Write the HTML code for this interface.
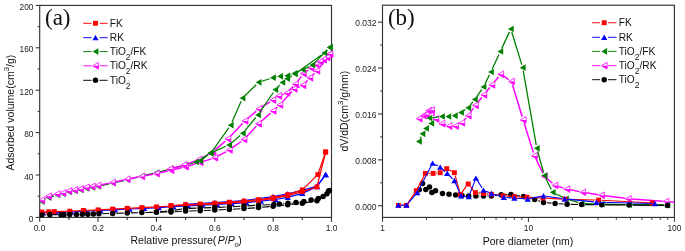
<!DOCTYPE html>
<html><head><meta charset="utf-8"><title>Isotherms</title>
<style>html,body{margin:0;padding:0;background:#fff;width:685px;height:251px;overflow:hidden;font-family:"Liberation Sans",sans-serif}svg{display:block;filter:blur(0.35px)}</style>
</head><body><svg width="685" height="251" viewBox="0 0 685 251"><rect x="39.7" y="5.4" width="291.8" height="212" fill="none" stroke="#333333" stroke-width="1.15"/><line x1="35.7" y1="217.4" x2="39.7" y2="217.4" stroke="#333333" stroke-width="1.1"/><text x="33.4" y="222" text-anchor="end" font-family="Liberation Sans, sans-serif" font-size="8.3" fill="#1a1a1a">0</text><line x1="37.7" y1="196.2" x2="39.7" y2="196.2" stroke="#333333" stroke-width="1.1"/><line x1="35.7" y1="175" x2="39.7" y2="175" stroke="#333333" stroke-width="1.1"/><text x="33.4" y="179.6" text-anchor="end" font-family="Liberation Sans, sans-serif" font-size="8.3" fill="#1a1a1a">40</text><line x1="37.7" y1="153.8" x2="39.7" y2="153.8" stroke="#333333" stroke-width="1.1"/><line x1="35.7" y1="132.6" x2="39.7" y2="132.6" stroke="#333333" stroke-width="1.1"/><text x="33.4" y="137.2" text-anchor="end" font-family="Liberation Sans, sans-serif" font-size="8.3" fill="#1a1a1a">80</text><line x1="37.7" y1="111.4" x2="39.7" y2="111.4" stroke="#333333" stroke-width="1.1"/><line x1="35.7" y1="90.2" x2="39.7" y2="90.2" stroke="#333333" stroke-width="1.1"/><text x="33.4" y="94.8" text-anchor="end" font-family="Liberation Sans, sans-serif" font-size="8.3" fill="#1a1a1a">120</text><line x1="37.7" y1="69" x2="39.7" y2="69" stroke="#333333" stroke-width="1.1"/><line x1="35.7" y1="47.8" x2="39.7" y2="47.8" stroke="#333333" stroke-width="1.1"/><text x="33.4" y="52.4" text-anchor="end" font-family="Liberation Sans, sans-serif" font-size="8.3" fill="#1a1a1a">160</text><line x1="37.7" y1="26.6" x2="39.7" y2="26.6" stroke="#333333" stroke-width="1.1"/><line x1="35.7" y1="5.4" x2="39.7" y2="5.4" stroke="#333333" stroke-width="1.1"/><text x="33.4" y="10" text-anchor="end" font-family="Liberation Sans, sans-serif" font-size="8.3" fill="#1a1a1a">200</text><line x1="39.7" y1="217.4" x2="39.7" y2="221.8" stroke="#333333" stroke-width="1.1"/><text x="39.7" y="231.3" text-anchor="middle" font-family="Liberation Sans, sans-serif" font-size="8.4" fill="#1a1a1a">0.0</text><line x1="68.88" y1="217.4" x2="68.88" y2="219.9" stroke="#333333" stroke-width="1.1"/><line x1="98.06" y1="217.4" x2="98.06" y2="221.8" stroke="#333333" stroke-width="1.1"/><text x="98.06" y="231.3" text-anchor="middle" font-family="Liberation Sans, sans-serif" font-size="8.4" fill="#1a1a1a">0.2</text><line x1="127.24" y1="217.4" x2="127.24" y2="219.9" stroke="#333333" stroke-width="1.1"/><line x1="156.42" y1="217.4" x2="156.42" y2="221.8" stroke="#333333" stroke-width="1.1"/><text x="156.42" y="231.3" text-anchor="middle" font-family="Liberation Sans, sans-serif" font-size="8.4" fill="#1a1a1a">0.4</text><line x1="185.6" y1="217.4" x2="185.6" y2="219.9" stroke="#333333" stroke-width="1.1"/><line x1="214.78" y1="217.4" x2="214.78" y2="221.8" stroke="#333333" stroke-width="1.1"/><text x="214.78" y="231.3" text-anchor="middle" font-family="Liberation Sans, sans-serif" font-size="8.4" fill="#1a1a1a">0.6</text><line x1="243.96" y1="217.4" x2="243.96" y2="219.9" stroke="#333333" stroke-width="1.1"/><line x1="273.14" y1="217.4" x2="273.14" y2="221.8" stroke="#333333" stroke-width="1.1"/><text x="273.14" y="231.3" text-anchor="middle" font-family="Liberation Sans, sans-serif" font-size="8.4" fill="#1a1a1a">0.8</text><line x1="302.32" y1="217.4" x2="302.32" y2="219.9" stroke="#333333" stroke-width="1.1"/><line x1="331.5" y1="217.4" x2="331.5" y2="221.8" stroke="#333333" stroke-width="1.1"/><text x="331.5" y="231.3" text-anchor="middle" font-family="Liberation Sans, sans-serif" font-size="8.4" fill="#1a1a1a">1.0</text><rect x="382.5" y="5.2" width="291.9" height="212.2" fill="none" stroke="#333333" stroke-width="1.15"/><line x1="378.1" y1="205.75" x2="382.5" y2="205.75" stroke="#333333" stroke-width="1.1"/><text x="376.5" y="209.75" text-anchor="end" font-family="Liberation Sans, sans-serif" font-size="8.5" fill="#1a1a1a">0.000</text><line x1="380.3" y1="182.8" x2="382.5" y2="182.8" stroke="#333333" stroke-width="1.1"/><line x1="378.1" y1="159.85" x2="382.5" y2="159.85" stroke="#333333" stroke-width="1.1"/><text x="376.5" y="163.85" text-anchor="end" font-family="Liberation Sans, sans-serif" font-size="8.5" fill="#1a1a1a">0.008</text><line x1="380.3" y1="136.9" x2="382.5" y2="136.9" stroke="#333333" stroke-width="1.1"/><line x1="378.1" y1="113.95" x2="382.5" y2="113.95" stroke="#333333" stroke-width="1.1"/><text x="376.5" y="117.95" text-anchor="end" font-family="Liberation Sans, sans-serif" font-size="8.5" fill="#1a1a1a">0.016</text><line x1="380.3" y1="91" x2="382.5" y2="91" stroke="#333333" stroke-width="1.1"/><line x1="378.1" y1="68.05" x2="382.5" y2="68.05" stroke="#333333" stroke-width="1.1"/><text x="376.5" y="72.05" text-anchor="end" font-family="Liberation Sans, sans-serif" font-size="8.5" fill="#1a1a1a">0.024</text><line x1="380.3" y1="45.1" x2="382.5" y2="45.1" stroke="#333333" stroke-width="1.1"/><line x1="378.1" y1="22.15" x2="382.5" y2="22.15" stroke="#333333" stroke-width="1.1"/><text x="376.5" y="26.15" text-anchor="end" font-family="Liberation Sans, sans-serif" font-size="8.5" fill="#1a1a1a">0.032</text><line x1="382.5" y1="217.4" x2="382.5" y2="221.8" stroke="#333333" stroke-width="1.0"/><line x1="426.44" y1="217.4" x2="426.44" y2="219.8" stroke="#333333" stroke-width="1.0"/><line x1="452.14" y1="217.4" x2="452.14" y2="219.8" stroke="#333333" stroke-width="1.0"/><line x1="470.37" y1="217.4" x2="470.37" y2="219.8" stroke="#333333" stroke-width="1.0"/><line x1="484.51" y1="217.4" x2="484.51" y2="219.8" stroke="#333333" stroke-width="1.0"/><line x1="496.07" y1="217.4" x2="496.07" y2="219.8" stroke="#333333" stroke-width="1.0"/><line x1="505.84" y1="217.4" x2="505.84" y2="219.8" stroke="#333333" stroke-width="1.0"/><line x1="514.31" y1="217.4" x2="514.31" y2="219.8" stroke="#333333" stroke-width="1.0"/><line x1="521.77" y1="217.4" x2="521.77" y2="219.8" stroke="#333333" stroke-width="1.0"/><line x1="528.45" y1="217.4" x2="528.45" y2="221.8" stroke="#333333" stroke-width="1.0"/><line x1="572.39" y1="217.4" x2="572.39" y2="219.8" stroke="#333333" stroke-width="1.0"/><line x1="598.09" y1="217.4" x2="598.09" y2="219.8" stroke="#333333" stroke-width="1.0"/><line x1="616.32" y1="217.4" x2="616.32" y2="219.8" stroke="#333333" stroke-width="1.0"/><line x1="630.46" y1="217.4" x2="630.46" y2="219.8" stroke="#333333" stroke-width="1.0"/><line x1="642.02" y1="217.4" x2="642.02" y2="219.8" stroke="#333333" stroke-width="1.0"/><line x1="651.79" y1="217.4" x2="651.79" y2="219.8" stroke="#333333" stroke-width="1.0"/><line x1="660.26" y1="217.4" x2="660.26" y2="219.8" stroke="#333333" stroke-width="1.0"/><line x1="667.72" y1="217.4" x2="667.72" y2="219.8" stroke="#333333" stroke-width="1.0"/><line x1="674.4" y1="217.4" x2="674.4" y2="221.8" stroke="#333333" stroke-width="1.0"/><text x="382.5" y="231.3" text-anchor="middle" font-family="Liberation Sans, sans-serif" font-size="8.4" fill="#1a1a1a">1</text><text x="528.45" y="231.3" text-anchor="middle" font-family="Liberation Sans, sans-serif" font-size="8.4" fill="#1a1a1a">10</text><text x="674.4" y="231.3" text-anchor="middle" font-family="Liberation Sans, sans-serif" font-size="8.4" fill="#1a1a1a">100</text><defs><clipPath id="cl"><rect x="39.7" y="5.4" width="294.8" height="212"/></clipPath><clipPath id="cr"><rect x="382.5" y="5.2" width="291.9" height="212.2"/></clipPath></defs><g clip-path="url(#cl)"><path d="M325.66 174.6L316.91 186.2L302.32 190.4L287.73 193.8L273.14 196.6L243.96 200.5L214.78 202.6L185.6 204.3" fill="none" stroke="#0000ff" stroke-width="1.25" stroke-linejoin="round"/><path d="M325.66 171.8L328.76 177.26L322.56 177.26Z" fill="#0000ff"/><path d="M316.91 183.4L320.01 188.86L313.81 188.86Z" fill="#0000ff"/><path d="M302.32 187.6L305.42 193.06L299.22 193.06Z" fill="#0000ff"/><path d="M287.73 191L290.83 196.46L284.63 196.46Z" fill="#0000ff"/><path d="M273.14 193.8L276.24 199.26L270.04 199.26Z" fill="#0000ff"/><path d="M243.96 197.7L247.06 203.16L240.86 203.16Z" fill="#0000ff"/><path d="M214.78 199.8L217.88 205.26L211.68 205.26Z" fill="#0000ff"/><path d="M185.6 201.5L188.7 206.96L182.5 206.96Z" fill="#0000ff"/><path d="M42.91 212.7L49.91 212.5L55.75 212.3L71.21 211.9L85.8 211.2L100.39 210.5L114.98 209.8L129.57 209L144.16 208.3L158.75 207.6L173.34 206.7L187.93 205.8L202.52 205.2L217.11 204.5L231.7 203.6L246.29 202.6L260.88 201.2L275.47 199.5L287.73 197.3L302.32 193.4L316.91 186.6L325.66 174.6" fill="none" stroke="#0000ff" stroke-width="1.25" stroke-linejoin="round"/><path d="M42.91 209.9L46.01 215.36L39.81 215.36Z" fill="#0000ff"/><path d="M49.91 209.7L53.01 215.16L46.81 215.16Z" fill="#0000ff"/><path d="M55.75 209.5L58.85 214.96L52.65 214.96Z" fill="#0000ff"/><path d="M71.21 209.1L74.31 214.56L68.11 214.56Z" fill="#0000ff"/><path d="M85.8 208.4L88.9 213.86L82.7 213.86Z" fill="#0000ff"/><path d="M100.39 207.7L103.49 213.16L97.29 213.16Z" fill="#0000ff"/><path d="M114.98 207L118.08 212.46L111.88 212.46Z" fill="#0000ff"/><path d="M129.57 206.2L132.67 211.66L126.47 211.66Z" fill="#0000ff"/><path d="M144.16 205.5L147.26 210.96L141.06 210.96Z" fill="#0000ff"/><path d="M158.75 204.8L161.85 210.26L155.65 210.26Z" fill="#0000ff"/><path d="M173.34 203.9L176.44 209.36L170.24 209.36Z" fill="#0000ff"/><path d="M187.93 203L191.03 208.46L184.83 208.46Z" fill="#0000ff"/><path d="M202.52 202.4L205.62 207.86L199.42 207.86Z" fill="#0000ff"/><path d="M217.11 201.7L220.21 207.16L214.01 207.16Z" fill="#0000ff"/><path d="M231.7 200.8L234.8 206.26L228.6 206.26Z" fill="#0000ff"/><path d="M246.29 199.8L249.39 205.26L243.19 205.26Z" fill="#0000ff"/><path d="M260.88 198.4L263.98 203.86L257.78 203.86Z" fill="#0000ff"/><path d="M275.47 196.7L278.57 202.16L272.37 202.16Z" fill="#0000ff"/><path d="M287.73 194.5L290.83 199.96L284.63 199.96Z" fill="#0000ff"/><path d="M302.32 190.6L305.42 196.06L299.22 196.06Z" fill="#0000ff"/><path d="M316.91 183.8L320.01 189.26L313.81 189.26Z" fill="#0000ff"/><path d="M325.66 171.8L328.76 177.26L322.56 177.26Z" fill="#0000ff"/><path d="M325.66 152L317.79 174.6L302.32 189.9L287.73 194.6L273.14 197.7L258.55 199.7L243.96 201.1L229.37 202.2L214.78 203.2L200.19 204L185.6 204.7L171.01 205.5" fill="none" stroke="#ff0000" stroke-width="1.25" stroke-linejoin="round"/><rect x="323.21" y="149.55" width="4.9" height="4.9" fill="#ff0000"/><rect x="315.34" y="172.15" width="4.9" height="4.9" fill="#ff0000"/><rect x="299.87" y="187.45" width="4.9" height="4.9" fill="#ff0000"/><rect x="285.28" y="192.15" width="4.9" height="4.9" fill="#ff0000"/><rect x="270.69" y="195.25" width="4.9" height="4.9" fill="#ff0000"/><rect x="256.1" y="197.25" width="4.9" height="4.9" fill="#ff0000"/><rect x="241.51" y="198.65" width="4.9" height="4.9" fill="#ff0000"/><rect x="226.92" y="199.75" width="4.9" height="4.9" fill="#ff0000"/><rect x="212.33" y="200.75" width="4.9" height="4.9" fill="#ff0000"/><rect x="197.74" y="201.55" width="4.9" height="4.9" fill="#ff0000"/><rect x="183.15" y="202.25" width="4.9" height="4.9" fill="#ff0000"/><rect x="168.56" y="203.05" width="4.9" height="4.9" fill="#ff0000"/><path d="M41.74 212L48.75 211.8L54.29 211.6L69.76 211.2L83.47 210.5L98.06 209.9L112.65 209.1L127.24 208.3L141.83 207.6L156.42 206.9L171.01 206L185.6 205.1L200.19 204.5L214.78 203.8L229.37 202.9L243.96 201.9L258.55 200.5L273.14 198.6L287.73 195.6L302.32 191.6L316.91 186.9L325.66 152" fill="none" stroke="#ff0000" stroke-width="1.25" stroke-linejoin="round"/><rect x="39.29" y="209.55" width="4.9" height="4.9" fill="#ff0000"/><rect x="46.3" y="209.35" width="4.9" height="4.9" fill="#ff0000"/><rect x="51.84" y="209.15" width="4.9" height="4.9" fill="#ff0000"/><rect x="67.31" y="208.75" width="4.9" height="4.9" fill="#ff0000"/><rect x="81.02" y="208.05" width="4.9" height="4.9" fill="#ff0000"/><rect x="95.61" y="207.45" width="4.9" height="4.9" fill="#ff0000"/><rect x="110.2" y="206.65" width="4.9" height="4.9" fill="#ff0000"/><rect x="124.79" y="205.85" width="4.9" height="4.9" fill="#ff0000"/><rect x="139.38" y="205.15" width="4.9" height="4.9" fill="#ff0000"/><rect x="153.97" y="204.45" width="4.9" height="4.9" fill="#ff0000"/><rect x="168.56" y="203.55" width="4.9" height="4.9" fill="#ff0000"/><rect x="183.15" y="202.65" width="4.9" height="4.9" fill="#ff0000"/><rect x="197.74" y="202.05" width="4.9" height="4.9" fill="#ff0000"/><rect x="212.33" y="201.35" width="4.9" height="4.9" fill="#ff0000"/><rect x="226.92" y="200.45" width="4.9" height="4.9" fill="#ff0000"/><rect x="241.51" y="199.45" width="4.9" height="4.9" fill="#ff0000"/><rect x="256.1" y="198.05" width="4.9" height="4.9" fill="#ff0000"/><rect x="270.69" y="196.15" width="4.9" height="4.9" fill="#ff0000"/><rect x="285.28" y="193.15" width="4.9" height="4.9" fill="#ff0000"/><rect x="299.87" y="189.15" width="4.9" height="4.9" fill="#ff0000"/><rect x="314.46" y="184.45" width="4.9" height="4.9" fill="#ff0000"/><rect x="323.21" y="149.55" width="4.9" height="4.9" fill="#ff0000"/><path d="M300.33 201.9L299.57 202M292.42 202.86L291.58 202.94M284.42 203.64L283.08 203.76M270.3 204.74L262.15 205.06M254.96 205.42L247.55 205.88M240.37 206.3L232.96 206.7M225.77 207.05L218.38 207.35M211.18 207.62L203.79 207.88M196.59 208.12L189.2 208.38M182.04 209.01L174.57 210.09M167.43 210.97L160 211.73" fill="none" stroke="#000000" stroke-width="1.1" stroke-linejoin="round"/><circle cx="329.4" cy="190.5" r="2.75" fill="#000000"/><circle cx="327" cy="193.7" r="2.75" fill="#000000"/><circle cx="323.1" cy="196.6" r="2.75" fill="#000000"/><circle cx="318.3" cy="198.5" r="2.75" fill="#000000"/><circle cx="311.1" cy="200.1" r="2.75" fill="#000000"/><circle cx="303.9" cy="201.4" r="2.75" fill="#000000"/><circle cx="296" cy="202.5" r="2.75" fill="#000000"/><circle cx="288" cy="203.3" r="2.75" fill="#000000"/><circle cx="279.5" cy="204.1" r="2.75" fill="#000000"/><circle cx="273.9" cy="204.6" r="2.75" fill="#000000"/><circle cx="258.55" cy="205.2" r="2.75" fill="#000000"/><circle cx="243.96" cy="206.1" r="2.75" fill="#000000"/><circle cx="229.37" cy="206.9" r="2.75" fill="#000000"/><circle cx="214.78" cy="207.5" r="2.75" fill="#000000"/><circle cx="200.19" cy="208" r="2.75" fill="#000000"/><circle cx="185.6" cy="208.5" r="2.75" fill="#000000"/><circle cx="171.01" cy="210.6" r="2.75" fill="#000000"/><circle cx="156.42" cy="212.1" r="2.75" fill="#000000"/><path d="M45.34 214.86L46.31 214.85M53.51 214.77L57.4 214.73M102.53 213.68L109.05 213.5M116.25 213.3L123.64 213.1M130.84 212.9L138.23 212.7M145.43 212.53L152.82 212.37M160.02 212.2L167.41 212M174.6 211.7L182.01 211.3M189.2 211L196.59 210.8M203.79 210.55L211.18 210.25M218.38 209.93L225.77 209.57M232.96 209.2L240.37 208.8M247.55 208.35L254.96 207.85M262.14 207.28L269.55 206.62M276.72 205.93L284.15 205.17M291.31 204.41L298.74 203.59M305.87 202.62L313.36 201.38M319.67 198.49L325.82 193.31" fill="none" stroke="#000000" stroke-width="1.1" stroke-linejoin="round"/><circle cx="41.74" cy="214.9" r="2.75" fill="#000000"/><circle cx="49.91" cy="214.81" r="2.75" fill="#000000"/><circle cx="61" cy="214.69" r="2.75" fill="#000000"/><circle cx="63.92" cy="214.65" r="2.75" fill="#000000"/><circle cx="69.76" cy="214.58" r="2.75" fill="#000000"/><circle cx="76.47" cy="214.43" r="2.75" fill="#000000"/><circle cx="82.3" cy="214.29" r="2.75" fill="#000000"/><circle cx="87.85" cy="214.15" r="2.75" fill="#000000"/><circle cx="93.39" cy="213.96" r="2.75" fill="#000000"/><circle cx="98.94" cy="213.78" r="2.75" fill="#000000"/><circle cx="112.65" cy="213.4" r="2.75" fill="#000000"/><circle cx="127.24" cy="213" r="2.75" fill="#000000"/><circle cx="141.83" cy="212.6" r="2.75" fill="#000000"/><circle cx="156.42" cy="212.3" r="2.75" fill="#000000"/><circle cx="171.01" cy="211.9" r="2.75" fill="#000000"/><circle cx="185.6" cy="211.1" r="2.75" fill="#000000"/><circle cx="200.19" cy="210.7" r="2.75" fill="#000000"/><circle cx="214.78" cy="210.1" r="2.75" fill="#000000"/><circle cx="229.37" cy="209.4" r="2.75" fill="#000000"/><circle cx="243.96" cy="208.6" r="2.75" fill="#000000"/><circle cx="258.55" cy="207.6" r="2.75" fill="#000000"/><circle cx="273.14" cy="206.3" r="2.75" fill="#000000"/><circle cx="287.73" cy="204.8" r="2.75" fill="#000000"/><circle cx="302.32" cy="203.2" r="2.75" fill="#000000"/><circle cx="316.91" cy="200.8" r="2.75" fill="#000000"/><circle cx="328.58" cy="191" r="2.75" fill="#000000"/><path d="M44.66 199.86L45.53 199.34M51.71 196.63L53.95 195.97M101.38 185.67L109.33 183.93M115.96 182.43L123.93 180.57M130.53 178.94L138.54 176.86M145.14 175.23L153.11 173.37M159.71 171.74L167.72 169.66M174.31 167.99L182.3 166.01M188.87 164.26L196.92 161.94" fill="none" stroke="#008000" stroke-width="1.25" stroke-linejoin="round"/><path d="M38.84 201.6L44.64 198.25L44.64 204.95Z" fill="#008000"/><path d="M45.55 197.6L51.35 194.25L51.35 200.95Z" fill="#008000"/><path d="M54.31 195L60.11 191.65L60.11 198.35Z" fill="#008000"/><path d="M60.14 193.8L65.94 190.45L65.94 197.15Z" fill="#008000"/><path d="M65.98 192L71.78 188.65L71.78 195.35Z" fill="#008000"/><path d="M71.82 191L77.62 187.65L77.62 194.35Z" fill="#008000"/><path d="M77.65 190L83.45 186.65L83.45 193.35Z" fill="#008000"/><path d="M83.49 188.5L89.29 185.15L89.29 191.85Z" fill="#008000"/><path d="M89.32 187.5L95.12 184.15L95.12 190.85Z" fill="#008000"/><path d="M95.16 186.4L100.96 183.05L100.96 189.75Z" fill="#008000"/><path d="M109.75 183.2L115.55 179.85L115.55 186.55Z" fill="#008000"/><path d="M124.34 179.8L130.14 176.45L130.14 183.15Z" fill="#008000"/><path d="M138.93 176L144.73 172.65L144.73 179.35Z" fill="#008000"/><path d="M153.52 172.6L159.32 169.25L159.32 175.95Z" fill="#008000"/><path d="M168.11 168.8L173.91 165.45L173.91 172.15Z" fill="#008000"/><path d="M182.7 165.2L188.5 161.85L188.5 168.55Z" fill="#008000"/><path d="M197.29 161L203.09 157.65L203.09 164.35Z" fill="#008000"/><path d="M44.66 198.46L45.53 197.94M51.75 195.37L53.91 194.83M101.39 184.74L109.32 183.16M115.97 181.75L123.92 179.95M130.58 178.56L138.49 177.04M145.17 175.76L153.08 174.24M159.73 172.83L167.7 170.97M174.32 169.43L182.29 167.57M188.86 165.82L196.93 163.38M203.43 161.38L211.54 158.82M217.77 156.18L226.38 151.52M232.14 147.93L241.19 141.47M246.27 137.01L256.24 126.29M261.1 121.55L270.59 113.15M275.67 108.63L277.32 107.17M282.12 102.36L291.88 91.44M297.29 87.61L299.76 86.59M305.22 82.81L307.59 80.29M312.33 75.41L314.49 73.29M318.97 68.2L327.68 56.8" fill="none" stroke="#ff00ff" stroke-width="1.45" stroke-linejoin="round"/><path d="M38.84 200.2L44.64 196.85L44.64 203.55Z" fill="#fff" stroke="#ff00ff" stroke-width="0.8"/><path d="M38.84 200.2L44.64 200.2L44.64 203.55Z" fill="#ff00ff"/><path d="M45.55 196.2L51.35 192.85L51.35 199.55Z" fill="#fff" stroke="#ff00ff" stroke-width="0.8"/><path d="M45.55 196.2L51.35 196.2L51.35 199.55Z" fill="#ff00ff"/><path d="M54.31 194L60.11 190.65L60.11 197.35Z" fill="#fff" stroke="#ff00ff" stroke-width="0.8"/><path d="M54.31 194L60.11 194L60.11 197.35Z" fill="#ff00ff"/><path d="M60.14 192.9L65.94 189.55L65.94 196.25Z" fill="#fff" stroke="#ff00ff" stroke-width="0.8"/><path d="M60.14 192.9L65.94 192.9L65.94 196.25Z" fill="#ff00ff"/><path d="M65.98 190.9L71.78 187.55L71.78 194.25Z" fill="#fff" stroke="#ff00ff" stroke-width="0.8"/><path d="M65.98 190.9L71.78 190.9L71.78 194.25Z" fill="#ff00ff"/><path d="M71.82 189.9L77.62 186.55L77.62 193.25Z" fill="#fff" stroke="#ff00ff" stroke-width="0.8"/><path d="M71.82 189.9L77.62 189.9L77.62 193.25Z" fill="#ff00ff"/><path d="M77.65 188.9L83.45 185.55L83.45 192.25Z" fill="#fff" stroke="#ff00ff" stroke-width="0.8"/><path d="M77.65 188.9L83.45 188.9L83.45 192.25Z" fill="#ff00ff"/><path d="M83.49 187.4L89.29 184.05L89.29 190.75Z" fill="#fff" stroke="#ff00ff" stroke-width="0.8"/><path d="M83.49 187.4L89.29 187.4L89.29 190.75Z" fill="#ff00ff"/><path d="M89.32 186.4L95.12 183.05L95.12 189.75Z" fill="#fff" stroke="#ff00ff" stroke-width="0.8"/><path d="M89.32 186.4L95.12 186.4L95.12 189.75Z" fill="#ff00ff"/><path d="M95.16 185.4L100.96 182.05L100.96 188.75Z" fill="#fff" stroke="#ff00ff" stroke-width="0.8"/><path d="M95.16 185.4L100.96 185.4L100.96 188.75Z" fill="#ff00ff"/><path d="M109.75 182.5L115.55 179.15L115.55 185.85Z" fill="#fff" stroke="#ff00ff" stroke-width="0.8"/><path d="M109.75 182.5L115.55 182.5L115.55 185.85Z" fill="#ff00ff"/><path d="M124.34 179.2L130.14 175.85L130.14 182.55Z" fill="#fff" stroke="#ff00ff" stroke-width="0.8"/><path d="M124.34 179.2L130.14 179.2L130.14 182.55Z" fill="#ff00ff"/><path d="M138.93 176.4L144.73 173.05L144.73 179.75Z" fill="#fff" stroke="#ff00ff" stroke-width="0.8"/><path d="M138.93 176.4L144.73 176.4L144.73 179.75Z" fill="#ff00ff"/><path d="M153.52 173.6L159.32 170.25L159.32 176.95Z" fill="#fff" stroke="#ff00ff" stroke-width="0.8"/><path d="M153.52 173.6L159.32 173.6L159.32 176.95Z" fill="#ff00ff"/><path d="M168.11 170.2L173.91 166.85L173.91 173.55Z" fill="#fff" stroke="#ff00ff" stroke-width="0.8"/><path d="M168.11 170.2L173.91 170.2L173.91 173.55Z" fill="#ff00ff"/><path d="M182.7 166.8L188.5 163.45L188.5 170.15Z" fill="#fff" stroke="#ff00ff" stroke-width="0.8"/><path d="M182.7 166.8L188.5 166.8L188.5 170.15Z" fill="#ff00ff"/><path d="M197.29 162.4L203.09 159.05L203.09 165.75Z" fill="#fff" stroke="#ff00ff" stroke-width="0.8"/><path d="M197.29 162.4L203.09 162.4L203.09 165.75Z" fill="#ff00ff"/><path d="M211.88 157.8L217.68 154.45L217.68 161.15Z" fill="#fff" stroke="#ff00ff" stroke-width="0.8"/><path d="M211.88 157.8L217.68 157.8L217.68 161.15Z" fill="#ff00ff"/><path d="M226.47 149.9L232.27 146.55L232.27 153.25Z" fill="#fff" stroke="#ff00ff" stroke-width="0.8"/><path d="M226.47 149.9L232.27 149.9L232.27 153.25Z" fill="#ff00ff"/><path d="M241.06 139.5L246.86 136.15L246.86 142.85Z" fill="#fff" stroke="#ff00ff" stroke-width="0.8"/><path d="M241.06 139.5L246.86 139.5L246.86 142.85Z" fill="#ff00ff"/><path d="M255.65 123.8L261.45 120.45L261.45 127.15Z" fill="#fff" stroke="#ff00ff" stroke-width="0.8"/><path d="M255.65 123.8L261.45 123.8L261.45 127.15Z" fill="#ff00ff"/><path d="M270.24 110.9L276.04 107.55L276.04 114.25Z" fill="#fff" stroke="#ff00ff" stroke-width="0.8"/><path d="M270.24 110.9L276.04 110.9L276.04 114.25Z" fill="#ff00ff"/><path d="M276.95 104.9L282.75 101.55L282.75 108.25Z" fill="#fff" stroke="#ff00ff" stroke-width="0.8"/><path d="M276.95 104.9L282.75 104.9L282.75 108.25Z" fill="#ff00ff"/><path d="M291.25 88.9L297.05 85.55L297.05 92.25Z" fill="#fff" stroke="#ff00ff" stroke-width="0.8"/><path d="M291.25 88.9L297.05 88.9L297.05 92.25Z" fill="#ff00ff"/><path d="M300 85.3L305.8 81.95L305.8 88.65Z" fill="#fff" stroke="#ff00ff" stroke-width="0.8"/><path d="M300 85.3L305.8 85.3L305.8 88.65Z" fill="#ff00ff"/><path d="M307.01 77.8L312.81 74.45L312.81 81.15Z" fill="#fff" stroke="#ff00ff" stroke-width="0.8"/><path d="M307.01 77.8L312.81 77.8L312.81 81.15Z" fill="#ff00ff"/><path d="M314.01 70.9L319.81 67.55L319.81 74.25Z" fill="#fff" stroke="#ff00ff" stroke-width="0.8"/><path d="M314.01 70.9L319.81 70.9L319.81 74.25Z" fill="#ff00ff"/><path d="M326.85 54.1L332.65 50.75L332.65 57.45Z" fill="#fff" stroke="#ff00ff" stroke-width="0.8"/><path d="M326.85 54.1L332.65 54.1L332.65 57.45Z" fill="#ff00ff"/><path d="M308.26 70.02L306.14 71.58M301.36 76.32L297.54 81.38M293.12 86.53L289.18 90.57M283.62 94.19L281.98 94.81M275.99 97.91L275.71 98.09M270.03 101.82L261.77 107.08M256.33 111.12L247.57 118.68M242.66 123.36L230.24 136.44M225.33 141.13L215.47 149.67M209.92 153.53L201.98 157.87M195.81 160.67L187.19 163.83M180.73 165.93L173.27 168.07" fill="none" stroke="#ff00ff" stroke-width="1.45" stroke-linejoin="round"/><path d="M327 54.1L332.8 50.75L332.8 57.45Z" fill="#fff" stroke="#ff00ff" stroke-width="0.8"/><path d="M327 54.1L332.8 54.1L332.8 57.45Z" fill="#ff00ff"/><path d="M324.2 57.6L330 54.25L330 60.95Z" fill="#fff" stroke="#ff00ff" stroke-width="0.8"/><path d="M324.2 57.6L330 57.6L330 60.95Z" fill="#ff00ff"/><path d="M320.7 59.6L326.5 56.25L326.5 62.95Z" fill="#fff" stroke="#ff00ff" stroke-width="0.8"/><path d="M320.7 59.6L326.5 59.6L326.5 62.95Z" fill="#ff00ff"/><path d="M317.2 61.7L323 58.35L323 65.05Z" fill="#fff" stroke="#ff00ff" stroke-width="0.8"/><path d="M317.2 61.7L323 61.7L323 65.05Z" fill="#ff00ff"/><path d="M313 64.5L318.8 61.15L318.8 67.85Z" fill="#fff" stroke="#ff00ff" stroke-width="0.8"/><path d="M313 64.5L318.8 64.5L318.8 67.85Z" fill="#ff00ff"/><path d="M308.1 68L313.9 64.65L313.9 71.35Z" fill="#fff" stroke="#ff00ff" stroke-width="0.8"/><path d="M308.1 68L313.9 68L313.9 71.35Z" fill="#ff00ff"/><path d="M300.5 73.6L306.3 70.25L306.3 76.95Z" fill="#fff" stroke="#ff00ff" stroke-width="0.8"/><path d="M300.5 73.6L306.3 73.6L306.3 76.95Z" fill="#ff00ff"/><path d="M292.6 84.1L298.4 80.75L298.4 87.45Z" fill="#fff" stroke="#ff00ff" stroke-width="0.8"/><path d="M292.6 84.1L298.4 84.1L298.4 87.45Z" fill="#ff00ff"/><path d="M283.9 93L289.7 89.65L289.7 96.35Z" fill="#fff" stroke="#ff00ff" stroke-width="0.8"/><path d="M283.9 93L289.7 93L289.7 96.35Z" fill="#ff00ff"/><path d="M275.9 96L281.7 92.65L281.7 99.35Z" fill="#fff" stroke="#ff00ff" stroke-width="0.8"/><path d="M275.9 96L281.7 96L281.7 99.35Z" fill="#ff00ff"/><path d="M270 100L275.8 96.65L275.8 103.35Z" fill="#fff" stroke="#ff00ff" stroke-width="0.8"/><path d="M270 100L275.8 100L275.8 103.35Z" fill="#ff00ff"/><path d="M256 108.9L261.8 105.55L261.8 112.25Z" fill="#fff" stroke="#ff00ff" stroke-width="0.8"/><path d="M256 108.9L261.8 108.9L261.8 112.25Z" fill="#ff00ff"/><path d="M242.1 120.9L247.9 117.55L247.9 124.25Z" fill="#fff" stroke="#ff00ff" stroke-width="0.8"/><path d="M242.1 120.9L247.9 120.9L247.9 124.25Z" fill="#ff00ff"/><path d="M225 138.9L230.8 135.55L230.8 142.25Z" fill="#fff" stroke="#ff00ff" stroke-width="0.8"/><path d="M225 138.9L230.8 138.9L230.8 142.25Z" fill="#ff00ff"/><path d="M210 151.9L215.8 148.55L215.8 155.25Z" fill="#fff" stroke="#ff00ff" stroke-width="0.8"/><path d="M210 151.9L215.8 151.9L215.8 155.25Z" fill="#ff00ff"/><path d="M196.1 159.5L201.9 156.15L201.9 162.85Z" fill="#fff" stroke="#ff00ff" stroke-width="0.8"/><path d="M196.1 159.5L201.9 159.5L201.9 162.85Z" fill="#ff00ff"/><path d="M181.1 165L186.9 161.65L186.9 168.35Z" fill="#fff" stroke="#ff00ff" stroke-width="0.8"/><path d="M181.1 165L186.9 165L186.9 168.35Z" fill="#ff00ff"/><path d="M167.1 169L172.9 165.65L172.9 172.35Z" fill="#fff" stroke="#ff00ff" stroke-width="0.8"/><path d="M167.1 169L172.9 169L172.9 172.35Z" fill="#ff00ff"/><path d="M202.86 158.9L207.44 155.3M213.23 151.84L225.96 146.26M231.67 142.7L240.2 135.5M244.96 130.68L255.8 117.52M259.89 112.1L273.35 92.5M277.65 87.27L279.95 84.93M290.06 76.94L292.03 75.76M297.7 72.02L321.44 54.98M326.6 50.58L327.36 49.82" fill="none" stroke="#008000" stroke-width="1.25" stroke-linejoin="round"/><path d="M197.29 161L203.09 157.65L203.09 164.35Z" fill="#008000"/><path d="M207.21 153.2L213.01 149.85L213.01 156.55Z" fill="#008000"/><path d="M226.18 144.9L231.98 141.55L231.98 148.25Z" fill="#008000"/><path d="M239.89 133.3L245.69 129.95L245.69 136.65Z" fill="#008000"/><path d="M255.07 114.9L260.87 111.55L260.87 118.25Z" fill="#008000"/><path d="M272.37 89.7L278.17 86.35L278.17 93.05Z" fill="#008000"/><path d="M279.43 82.5L285.23 79.15L285.23 85.85Z" fill="#008000"/><path d="M284.25 78.7L290.05 75.35L290.05 82.05Z" fill="#008000"/><path d="M292.04 74L297.84 70.65L297.84 77.35Z" fill="#008000"/><path d="M321.31 53L327.1 49.65L327.1 56.35Z" fill="#008000"/><path d="M326.85 47.4L332.65 44.05L332.65 50.75Z" fill="#008000"/><path d="M327.32 49.82L314.68 62.68M309.25 66.61L305.85 68.29M299.67 71.14L297.53 72.06M291.17 74.48L290.43 74.72M283.81 76.04L283.49 76.06M276.76 76.95L276.24 77.05M269.66 78.74L261.84 81.26M256.17 84.68L244.93 95.72M241.14 101.22L232.06 122.08M228.72 127.97L212.98 150.03M208.1 154.58L198.9 160.22" fill="none" stroke="#008000" stroke-width="1.25" stroke-linejoin="round"/><path d="M326.8 47.4L332.6 44.05L332.6 50.75Z" fill="#008000"/><path d="M309.4 65.1L315.2 61.75L315.2 68.45Z" fill="#008000"/><path d="M299.9 69.8L305.7 66.45L305.7 73.15Z" fill="#008000"/><path d="M291.5 73.4L297.3 70.05L297.3 76.75Z" fill="#008000"/><path d="M284.3 75.8L290.1 72.45L290.1 79.15Z" fill="#008000"/><path d="M277.2 76.3L283 72.95L283 79.65Z" fill="#008000"/><path d="M270 77.7L275.8 74.35L275.8 81.05Z" fill="#008000"/><path d="M255.7 82.3L261.5 78.95L261.5 85.65Z" fill="#008000"/><path d="M239.6 98.1L245.4 94.75L245.4 101.45Z" fill="#008000"/><path d="M227.8 125.2L233.6 121.85L233.6 128.55Z" fill="#008000"/><path d="M208.1 152.8L213.9 149.45L213.9 156.15Z" fill="#008000"/><path d="M193.1 162L198.9 158.65L198.9 165.35Z" fill="#008000"/></g><g clip-path="url(#cr)"><path d="M433.09 113.25L434.41 115.95M438.58 121.1L439.22 121.6M445.13 124.78L445.87 125.02M464.06 120.36L465.94 118.24M470.15 112.91L473.45 108.19M477.54 102.76L481.76 97.54M486.02 92.25L489.78 87.55M494.09 82.3L498.61 76.9M503.62 76.2L508.68 79.6M512.49 84.75L522.21 116.75M524.21 123.25L533.39 152.65M535.9 158.95L542.9 173.25M546.97 178.53L552.43 183.27M558.25 186.48L563.65 188.12M570.23 189.77L579.47 191.63M586.16 192.84L598.14 194.76M604.87 195.74L624.93 198.36M631.69 199.04L662.61 201.26M669.39 201.74L686.61 202.96" fill="none" stroke="#ff00ff" stroke-width="1.5" stroke-linejoin="round"/><path d="M416.3 118.7L422.1 115.35L422.1 122.05Z" fill="#fff" stroke="#ff00ff" stroke-width="0.8"/><path d="M416.3 118.7L422.1 118.7L422.1 122.05Z" fill="#ff00ff"/><path d="M420.6 115.6L426.4 112.25L426.4 118.95Z" fill="#fff" stroke="#ff00ff" stroke-width="0.8"/><path d="M420.6 115.6L426.4 115.6L426.4 118.95Z" fill="#ff00ff"/><path d="M423.6 114.6L429.4 111.25L429.4 117.95Z" fill="#fff" stroke="#ff00ff" stroke-width="0.8"/><path d="M423.6 114.6L429.4 114.6L429.4 117.95Z" fill="#ff00ff"/><path d="M425.7 110.6L431.5 107.25L431.5 113.95Z" fill="#fff" stroke="#ff00ff" stroke-width="0.8"/><path d="M425.7 110.6L431.5 110.6L431.5 113.95Z" fill="#ff00ff"/><path d="M428.7 110.2L434.5 106.85L434.5 113.55Z" fill="#fff" stroke="#ff00ff" stroke-width="0.8"/><path d="M428.7 110.2L434.5 110.2L434.5 113.55Z" fill="#ff00ff"/><path d="M433 119L438.8 115.65L438.8 122.35Z" fill="#fff" stroke="#ff00ff" stroke-width="0.8"/><path d="M433 119L438.8 119L438.8 122.35Z" fill="#ff00ff"/><path d="M439 123.7L444.8 120.35L444.8 127.05Z" fill="#fff" stroke="#ff00ff" stroke-width="0.8"/><path d="M439 123.7L444.8 123.7L444.8 127.05Z" fill="#ff00ff"/><path d="M446.2 126.1L452 122.75L452 129.45Z" fill="#fff" stroke="#ff00ff" stroke-width="0.8"/><path d="M446.2 126.1L452 126.1L452 129.45Z" fill="#ff00ff"/><path d="M452.6 126.1L458.4 122.75L458.4 129.45Z" fill="#fff" stroke="#ff00ff" stroke-width="0.8"/><path d="M452.6 126.1L458.4 126.1L458.4 129.45Z" fill="#ff00ff"/><path d="M458.9 122.9L464.7 119.55L464.7 126.25Z" fill="#fff" stroke="#ff00ff" stroke-width="0.8"/><path d="M458.9 122.9L464.7 122.9L464.7 126.25Z" fill="#ff00ff"/><path d="M465.3 115.7L471.1 112.35L471.1 119.05Z" fill="#fff" stroke="#ff00ff" stroke-width="0.8"/><path d="M465.3 115.7L471.1 115.7L471.1 119.05Z" fill="#ff00ff"/><path d="M472.5 105.4L478.3 102.05L478.3 108.75Z" fill="#fff" stroke="#ff00ff" stroke-width="0.8"/><path d="M472.5 105.4L478.3 105.4L478.3 108.75Z" fill="#ff00ff"/><path d="M481 94.9L486.8 91.55L486.8 98.25Z" fill="#fff" stroke="#ff00ff" stroke-width="0.8"/><path d="M481 94.9L486.8 94.9L486.8 98.25Z" fill="#ff00ff"/><path d="M489 84.9L494.8 81.55L494.8 88.25Z" fill="#fff" stroke="#ff00ff" stroke-width="0.8"/><path d="M489 84.9L494.8 84.9L494.8 88.25Z" fill="#ff00ff"/><path d="M497.9 74.3L503.7 70.95L503.7 77.65Z" fill="#fff" stroke="#ff00ff" stroke-width="0.8"/><path d="M497.9 74.3L503.7 74.3L503.7 77.65Z" fill="#ff00ff"/><path d="M508.6 81.5L514.4 78.15L514.4 84.85Z" fill="#fff" stroke="#ff00ff" stroke-width="0.8"/><path d="M508.6 81.5L514.4 81.5L514.4 84.85Z" fill="#ff00ff"/><path d="M520.3 120L526.1 116.65L526.1 123.35Z" fill="#fff" stroke="#ff00ff" stroke-width="0.8"/><path d="M520.3 120L526.1 120L526.1 123.35Z" fill="#ff00ff"/><path d="M531.5 155.9L537.3 152.55L537.3 159.25Z" fill="#fff" stroke="#ff00ff" stroke-width="0.8"/><path d="M531.5 155.9L537.3 155.9L537.3 159.25Z" fill="#ff00ff"/><path d="M541.5 176.3L547.3 172.95L547.3 179.65Z" fill="#fff" stroke="#ff00ff" stroke-width="0.8"/><path d="M541.5 176.3L547.3 176.3L547.3 179.65Z" fill="#ff00ff"/><path d="M552.1 185.5L557.9 182.15L557.9 188.85Z" fill="#fff" stroke="#ff00ff" stroke-width="0.8"/><path d="M552.1 185.5L557.9 185.5L557.9 188.85Z" fill="#ff00ff"/><path d="M564 189.1L569.8 185.75L569.8 192.45Z" fill="#fff" stroke="#ff00ff" stroke-width="0.8"/><path d="M564 189.1L569.8 189.1L569.8 192.45Z" fill="#ff00ff"/><path d="M579.9 192.3L585.7 188.95L585.7 195.65Z" fill="#fff" stroke="#ff00ff" stroke-width="0.8"/><path d="M579.9 192.3L585.7 192.3L585.7 195.65Z" fill="#ff00ff"/><path d="M598.6 195.3L604.4 191.95L604.4 198.65Z" fill="#fff" stroke="#ff00ff" stroke-width="0.8"/><path d="M598.6 195.3L604.4 195.3L604.4 198.65Z" fill="#ff00ff"/><path d="M625.4 198.8L631.2 195.45L631.2 202.15Z" fill="#fff" stroke="#ff00ff" stroke-width="0.8"/><path d="M625.4 198.8L631.2 198.8L631.2 202.15Z" fill="#ff00ff"/><path d="M663.1 201.5L668.9 198.15L668.9 204.85Z" fill="#fff" stroke="#ff00ff" stroke-width="0.8"/><path d="M663.1 201.5L668.9 201.5L668.9 204.85Z" fill="#ff00ff"/><path d="M687.1 203.2L692.9 199.85L692.9 206.55Z" fill="#fff" stroke="#ff00ff" stroke-width="0.8"/><path d="M687.1 203.2L692.9 203.2L692.9 206.55Z" fill="#ff00ff"/><path d="M420.27 138.51L421.13 136.69M428.31 126.28L428.99 125.62M432.67 117.69L438.73 116.91M457.55 114.25L458.15 113.95M463.68 110.75L465.52 109.55M470.18 105.28L472.82 101.92M476.63 96.77L481.67 89.53M484.92 84.03L489.48 74.87M492.23 69.09L498.97 54.41M501.65 48.6L509.45 31.9M511.74 32.06L521.76 64.64M523.25 70.85L536.25 145.15M537.66 151.38L543.54 172.52M545.82 178.47L551.28 189.43M555.57 193.71L563.03 197.39M568.96 199.74L578.54 202.66M584.8 203.7L598.5 204.1M604.9 204.25L625.8 204.55M632.2 204.63L664.2 204.97" fill="none" stroke="#008000" stroke-width="1.3" stroke-linejoin="round"/><path d="M416 141.4L421.8 138.05L421.8 144.75Z" fill="#008000"/><path d="M419.6 133.8L425.4 130.45L425.4 137.15Z" fill="#008000"/><path d="M423.1 128.5L428.9 125.15L428.9 131.85Z" fill="#008000"/><path d="M428.4 123.4L434.2 120.05L434.2 126.75Z" fill="#008000"/><path d="M426.6 118.1L432.4 114.75L432.4 121.45Z" fill="#008000"/><path d="M439 116.5L444.8 113.15L444.8 119.85Z" fill="#008000"/><path d="M445.4 116.5L451.2 113.15L451.2 119.85Z" fill="#008000"/><path d="M451.8 115.7L457.6 112.35L457.6 119.05Z" fill="#008000"/><path d="M458.1 112.5L463.9 109.15L463.9 115.85Z" fill="#008000"/><path d="M465.3 107.8L471.1 104.45L471.1 111.15Z" fill="#008000"/><path d="M471.9 99.4L477.7 96.05L477.7 102.75Z" fill="#008000"/><path d="M480.6 86.9L486.4 83.55L486.4 90.25Z" fill="#008000"/><path d="M488 72L493.8 68.65L493.8 75.35Z" fill="#008000"/><path d="M497.4 51.5L503.2 48.15L503.2 54.85Z" fill="#008000"/><path d="M507.9 29L513.7 25.65L513.7 32.35Z" fill="#008000"/><path d="M519.8 67.7L525.6 64.35L525.6 71.05Z" fill="#008000"/><path d="M533.9 148.3L539.7 144.95L539.7 151.65Z" fill="#008000"/><path d="M541.5 175.6L547.3 172.25L547.3 178.95Z" fill="#008000"/><path d="M549.8 192.3L555.6 188.95L555.6 195.65Z" fill="#008000"/><path d="M563 198.8L568.8 195.45L568.8 202.15Z" fill="#008000"/><path d="M578.7 203.6L584.5 200.25L584.5 206.95Z" fill="#008000"/><path d="M598.8 204.2L604.6 200.85L604.6 207.55Z" fill="#008000"/><path d="M626.1 204.6L631.9 201.25L631.9 207.95Z" fill="#008000"/><path d="M664.5 205L670.3 201.65L670.3 208.35Z" fill="#008000"/><path d="M438.84 192.04L439.16 192.16M479.5 196L479.9 196M487.1 195.95L487.8 195.95M494.98 195.5L497.62 195.2M504.8 194.69L507.3 194.61M514.45 195.09L519.95 196.01M526.98 197.53L531.22 198.67M538.13 200.69L540.07 201.31M547.08 202.74L551.52 203.16M558.69 203.74L563.51 204.06M570.7 204.37L578 204.53M585.2 204.64L598.1 204.76M605.3 204.84L625.4 205.06M632.6 205.13L663.8 205.37" fill="none" stroke="#000000" stroke-width="1.1" stroke-linejoin="round"/><circle cx="419.3" cy="189.8" r="2.75" fill="#000000"/><circle cx="422.5" cy="183.5" r="2.75" fill="#000000"/><circle cx="425.8" cy="189.5" r="2.75" fill="#000000"/><circle cx="429.5" cy="187.1" r="2.75" fill="#000000"/><circle cx="431.9" cy="192.6" r="2.75" fill="#000000"/><circle cx="435.5" cy="190.7" r="2.75" fill="#000000"/><circle cx="442.5" cy="193.5" r="2.75" fill="#000000"/><circle cx="449" cy="194.3" r="2.75" fill="#000000"/><circle cx="455.6" cy="195" r="2.75" fill="#000000"/><circle cx="462" cy="195.5" r="2.75" fill="#000000"/><circle cx="468.7" cy="196" r="2.75" fill="#000000"/><circle cx="475.9" cy="196" r="2.75" fill="#000000"/><circle cx="483.5" cy="196" r="2.75" fill="#000000"/><circle cx="491.4" cy="195.9" r="2.75" fill="#000000"/><circle cx="501.2" cy="194.8" r="2.75" fill="#000000"/><circle cx="510.9" cy="194.5" r="2.75" fill="#000000"/><circle cx="523.5" cy="196.6" r="2.75" fill="#000000"/><circle cx="534.7" cy="199.6" r="2.75" fill="#000000"/><circle cx="543.5" cy="202.4" r="2.75" fill="#000000"/><circle cx="555.1" cy="203.5" r="2.75" fill="#000000"/><circle cx="567.1" cy="204.3" r="2.75" fill="#000000"/><circle cx="581.6" cy="204.6" r="2.75" fill="#000000"/><circle cx="601.7" cy="204.8" r="2.75" fill="#000000"/><circle cx="629" cy="205.1" r="2.75" fill="#000000"/><circle cx="667.4" cy="205.4" r="2.75" fill="#000000"/><path d="M401.4 205.5L403.3 205.5M407.98 203.01L414.62 193.19M417.7 188.04L424 176.06M428.4 173.4L430.1 173.4M436.09 173.11L437.21 172.99M442.75 171.13L444.15 170.27M449.36 170.08L451.74 171.32M455.19 175.59L459.51 191.41M462.13 191.92L466.37 186.38M470.13 186.3L473.47 190.3M478.38 192.93L480.52 193.17M486.48 193.8L488.42 194M494.38 194.68L500.02 195.42M505.99 196.01L511.41 196.39M517.4 196.74L524 197.06M530 197.35L540 197.85M546 198.16L562 199.04M568 199.28L595.6 200.02M601.6 200.26L649.1 202.74" fill="none" stroke="#ff0000" stroke-width="1.2" stroke-linejoin="round"/><rect x="395.95" y="203.05" width="4.9" height="4.9" fill="#ff0000"/><rect x="403.85" y="203.05" width="4.9" height="4.9" fill="#ff0000"/><rect x="413.85" y="188.25" width="4.9" height="4.9" fill="#ff0000"/><rect x="422.95" y="170.95" width="4.9" height="4.9" fill="#ff0000"/><rect x="430.65" y="170.95" width="4.9" height="4.9" fill="#ff0000"/><rect x="437.75" y="170.25" width="4.9" height="4.9" fill="#ff0000"/><rect x="444.25" y="166.25" width="4.9" height="4.9" fill="#ff0000"/><rect x="451.95" y="170.25" width="4.9" height="4.9" fill="#ff0000"/><rect x="457.85" y="191.85" width="4.9" height="4.9" fill="#ff0000"/><rect x="465.75" y="181.55" width="4.9" height="4.9" fill="#ff0000"/><rect x="472.95" y="190.15" width="4.9" height="4.9" fill="#ff0000"/><rect x="481.05" y="191.05" width="4.9" height="4.9" fill="#ff0000"/><rect x="488.95" y="191.85" width="4.9" height="4.9" fill="#ff0000"/><rect x="500.55" y="193.35" width="4.9" height="4.9" fill="#ff0000"/><rect x="511.95" y="194.15" width="4.9" height="4.9" fill="#ff0000"/><rect x="524.55" y="194.75" width="4.9" height="4.9" fill="#ff0000"/><rect x="540.55" y="195.55" width="4.9" height="4.9" fill="#ff0000"/><rect x="562.55" y="196.75" width="4.9" height="4.9" fill="#ff0000"/><rect x="596.15" y="197.65" width="4.9" height="4.9" fill="#ff0000"/><rect x="649.65" y="200.45" width="4.9" height="4.9" fill="#ff0000"/><path d="M401 205.1L403.9 205.1M408.2 203.13L415.6 194.57M418.5 190.29L431.4 165.51M434.9 164.41L437.9 165.99M442.15 168.92L445.25 171.68M449.04 175.24L452.56 178.76M455.44 182.98L460.06 193.52M463.69 196.17L466.11 196.43M469.64 194.28L474.96 180.62M477.29 180.4L482.11 188M485.9 191.2L489 192.5M493.89 194.26L501.41 196.54M506.49 197.47L511.81 197.83M516.99 198.19L525.11 198.81M530.25 198.5L540.95 196.4M546.08 196.25L562.12 198.45M567.29 199.08L593.91 201.92M599.1 202.26L652.3 203.54" fill="none" stroke="#0000ff" stroke-width="1.1" stroke-linejoin="round"/><path d="M398.4 202.3L401.5 207.76L395.3 207.76Z" fill="#0000ff"/><path d="M406.5 202.3L409.6 207.76L403.4 207.76Z" fill="#0000ff"/><path d="M417.3 189.8L420.4 195.26L414.2 195.26Z" fill="#0000ff"/><path d="M432.6 160.4L435.7 165.86L429.5 165.86Z" fill="#0000ff"/><path d="M440.2 164.4L443.3 169.86L437.1 169.86Z" fill="#0000ff"/><path d="M447.2 170.6L450.3 176.06L444.1 176.06Z" fill="#0000ff"/><path d="M454.4 177.8L457.5 183.26L451.3 183.26Z" fill="#0000ff"/><path d="M461.1 193.1L464.2 198.56L458 198.56Z" fill="#0000ff"/><path d="M468.7 193.9L471.8 199.36L465.6 199.36Z" fill="#0000ff"/><path d="M475.9 175.4L479 180.86L472.8 180.86Z" fill="#0000ff"/><path d="M483.5 187.4L486.6 192.86L480.4 192.86Z" fill="#0000ff"/><path d="M491.4 190.7L494.5 196.16L488.3 196.16Z" fill="#0000ff"/><path d="M503.9 194.5L507 199.96L500.8 199.96Z" fill="#0000ff"/><path d="M514.4 195.2L517.5 200.66L511.3 200.66Z" fill="#0000ff"/><path d="M527.7 196.2L530.8 201.66L524.6 201.66Z" fill="#0000ff"/><path d="M543.5 193.1L546.6 198.56L540.4 198.56Z" fill="#0000ff"/><path d="M564.7 196L567.8 201.46L561.6 201.46Z" fill="#0000ff"/><path d="M596.5 199.4L599.6 204.86L593.4 204.86Z" fill="#0000ff"/><path d="M654.9 200.8L658 206.26L651.8 206.26Z" fill="#0000ff"/></g><line x1="83.2" y1="23.3" x2="91.6" y2="23.3" stroke="#ff0000" stroke-width="0.95"/><line x1="99.6" y1="23.3" x2="107.7" y2="23.3" stroke="#ff0000" stroke-width="0.95"/><rect x="93.05" y="20.85" width="4.9" height="4.9" fill="#ff0000"/><text x="109.8" y="26.9" font-family="Liberation Sans, sans-serif" font-size="10.2" fill="#111">FK</text><line x1="83.2" y1="37.7" x2="91.6" y2="37.7" stroke="#0000ff" stroke-width="0.95"/><line x1="99.6" y1="37.7" x2="107.7" y2="37.7" stroke="#0000ff" stroke-width="0.95"/><path d="M95.5 34.9L98.6 40.36L92.4 40.36Z" fill="#0000ff"/><text x="109.8" y="41.3" font-family="Liberation Sans, sans-serif" font-size="10.2" fill="#111">RK</text><line x1="83.2" y1="51.6" x2="91.6" y2="51.6" stroke="#008000" stroke-width="0.95"/><line x1="99.6" y1="51.6" x2="107.7" y2="51.6" stroke="#008000" stroke-width="0.95"/><path d="M92.6 51.6L98.4 48.25L98.4 54.95Z" fill="#008000"/><text x="109.8" y="55.2" font-family="Liberation Sans, sans-serif" font-size="10.2" fill="#111">TiO<tspan font-size="8.3" dy="4.6">2</tspan><tspan dy="-4.6">/FK</tspan></text><line x1="83.2" y1="65.8" x2="91.6" y2="65.8" stroke="#ff00ff" stroke-width="0.95"/><line x1="99.6" y1="65.8" x2="107.7" y2="65.8" stroke="#ff00ff" stroke-width="0.95"/><path d="M92.6 65.8L98.4 62.45L98.4 69.15Z" fill="#fff" stroke="#ff00ff" stroke-width="0.8"/><path d="M92.6 65.8L98.4 65.8L98.4 69.15Z" fill="#ff00ff"/><text x="109.8" y="69.4" font-family="Liberation Sans, sans-serif" font-size="10.2" fill="#111">TiO<tspan font-size="8.3" dy="4.6">2</tspan><tspan dy="-4.6">/RK</tspan></text><line x1="83.2" y1="80.3" x2="91.6" y2="80.3" stroke="#000000" stroke-width="0.95"/><line x1="99.6" y1="80.3" x2="107.7" y2="80.3" stroke="#000000" stroke-width="0.95"/><circle cx="95.5" cy="80.3" r="2.75" fill="#000000"/><text x="109.8" y="83.9" font-family="Liberation Sans, sans-serif" font-size="10.2" fill="#111">TiO<tspan font-size="8.3" dy="4.6">2</tspan></text><line x1="592.2" y1="22.75" x2="600" y2="22.75" stroke="#ff0000" stroke-width="0.95"/><line x1="608" y1="22.75" x2="616.5" y2="22.75" stroke="#ff0000" stroke-width="0.95"/><rect x="601.75" y="20.3" width="4.9" height="4.9" fill="#ff0000"/><text x="618.7" y="26.25" font-family="Liberation Sans, sans-serif" font-size="10.2" fill="#111">FK</text><line x1="592.2" y1="37.3" x2="600" y2="37.3" stroke="#0000ff" stroke-width="0.95"/><line x1="608" y1="37.3" x2="616.5" y2="37.3" stroke="#0000ff" stroke-width="0.95"/><path d="M604.2 34.5L607.3 39.96L601.1 39.96Z" fill="#0000ff"/><text x="618.7" y="40.8" font-family="Liberation Sans, sans-serif" font-size="10.2" fill="#111">RK</text><line x1="592.2" y1="51.4" x2="600" y2="51.4" stroke="#008000" stroke-width="0.95"/><line x1="608" y1="51.4" x2="616.5" y2="51.4" stroke="#008000" stroke-width="0.95"/><path d="M601.3 51.4L607.1 48.05L607.1 54.75Z" fill="#008000"/><text x="618.7" y="54.9" font-family="Liberation Sans, sans-serif" font-size="10.2" fill="#111">TiO<tspan font-size="8.5" dy="4.6">2</tspan><tspan dy="-4.6">/FK</tspan></text><line x1="592.2" y1="65.7" x2="600" y2="65.7" stroke="#ff00ff" stroke-width="0.95"/><line x1="608" y1="65.7" x2="616.5" y2="65.7" stroke="#ff00ff" stroke-width="0.95"/><path d="M601.3 65.7L607.1 62.35L607.1 69.05Z" fill="#fff" stroke="#ff00ff" stroke-width="0.8"/><path d="M601.3 65.7L607.1 65.7L607.1 69.05Z" fill="#ff00ff"/><text x="618.7" y="69.2" font-family="Liberation Sans, sans-serif" font-size="10.2" fill="#111">TiO<tspan font-size="8.5" dy="4.6">2</tspan><tspan dy="-4.6">/RK</tspan></text><line x1="592.2" y1="79.7" x2="600" y2="79.7" stroke="#000000" stroke-width="0.95"/><line x1="608" y1="79.7" x2="616.5" y2="79.7" stroke="#000000" stroke-width="0.95"/><circle cx="604.2" cy="79.7" r="2.75" fill="#000000"/><text x="618.7" y="83.2" font-family="Liberation Sans, sans-serif" font-size="10.2" fill="#111">TiO<tspan font-size="8.5" dy="4.6">2</tspan></text><text x="45.0" y="24.5" font-family="Liberation Serif, serif" font-size="23" fill="#111">(a)</text><text x="387.9" y="24.5" font-family="Liberation Serif, serif" font-size="23" fill="#111">(b)</text><text x="130.4" y="243.6" font-family="Liberation Sans, sans-serif" font-size="10.6" fill="#111">Relative pressure(<tspan dx="1.3" font-style="italic">P</tspan>/<tspan font-style="italic">P</tspan><tspan font-size="7.5" dy="3.6" dx="-0.4" font-style="italic">o</tspan><tspan dy="-3.6" dx="-0.2">)</tspan></text><text x="528.0" y="244.6" text-anchor="middle" font-family="Liberation Sans, sans-serif" font-size="10.5" fill="#111">Pore diameter (nm)</text><text transform="translate(14.3,112.6) rotate(-90)" text-anchor="middle" font-family="Liberation Sans, sans-serif" font-size="10.5" fill="#111">Adsorbed volume(cm<tspan font-size="7.8" dy="-5">3</tspan><tspan dy="5">/g)</tspan></text><text transform="translate(347.6,111.2) rotate(-90)" text-anchor="middle" font-family="Liberation Sans, sans-serif" font-size="10.5" fill="#111">dV/dD(cm<tspan font-size="7.8" dy="-5">3</tspan><tspan dy="5">/g/nm)</tspan></text></svg></body></html>
